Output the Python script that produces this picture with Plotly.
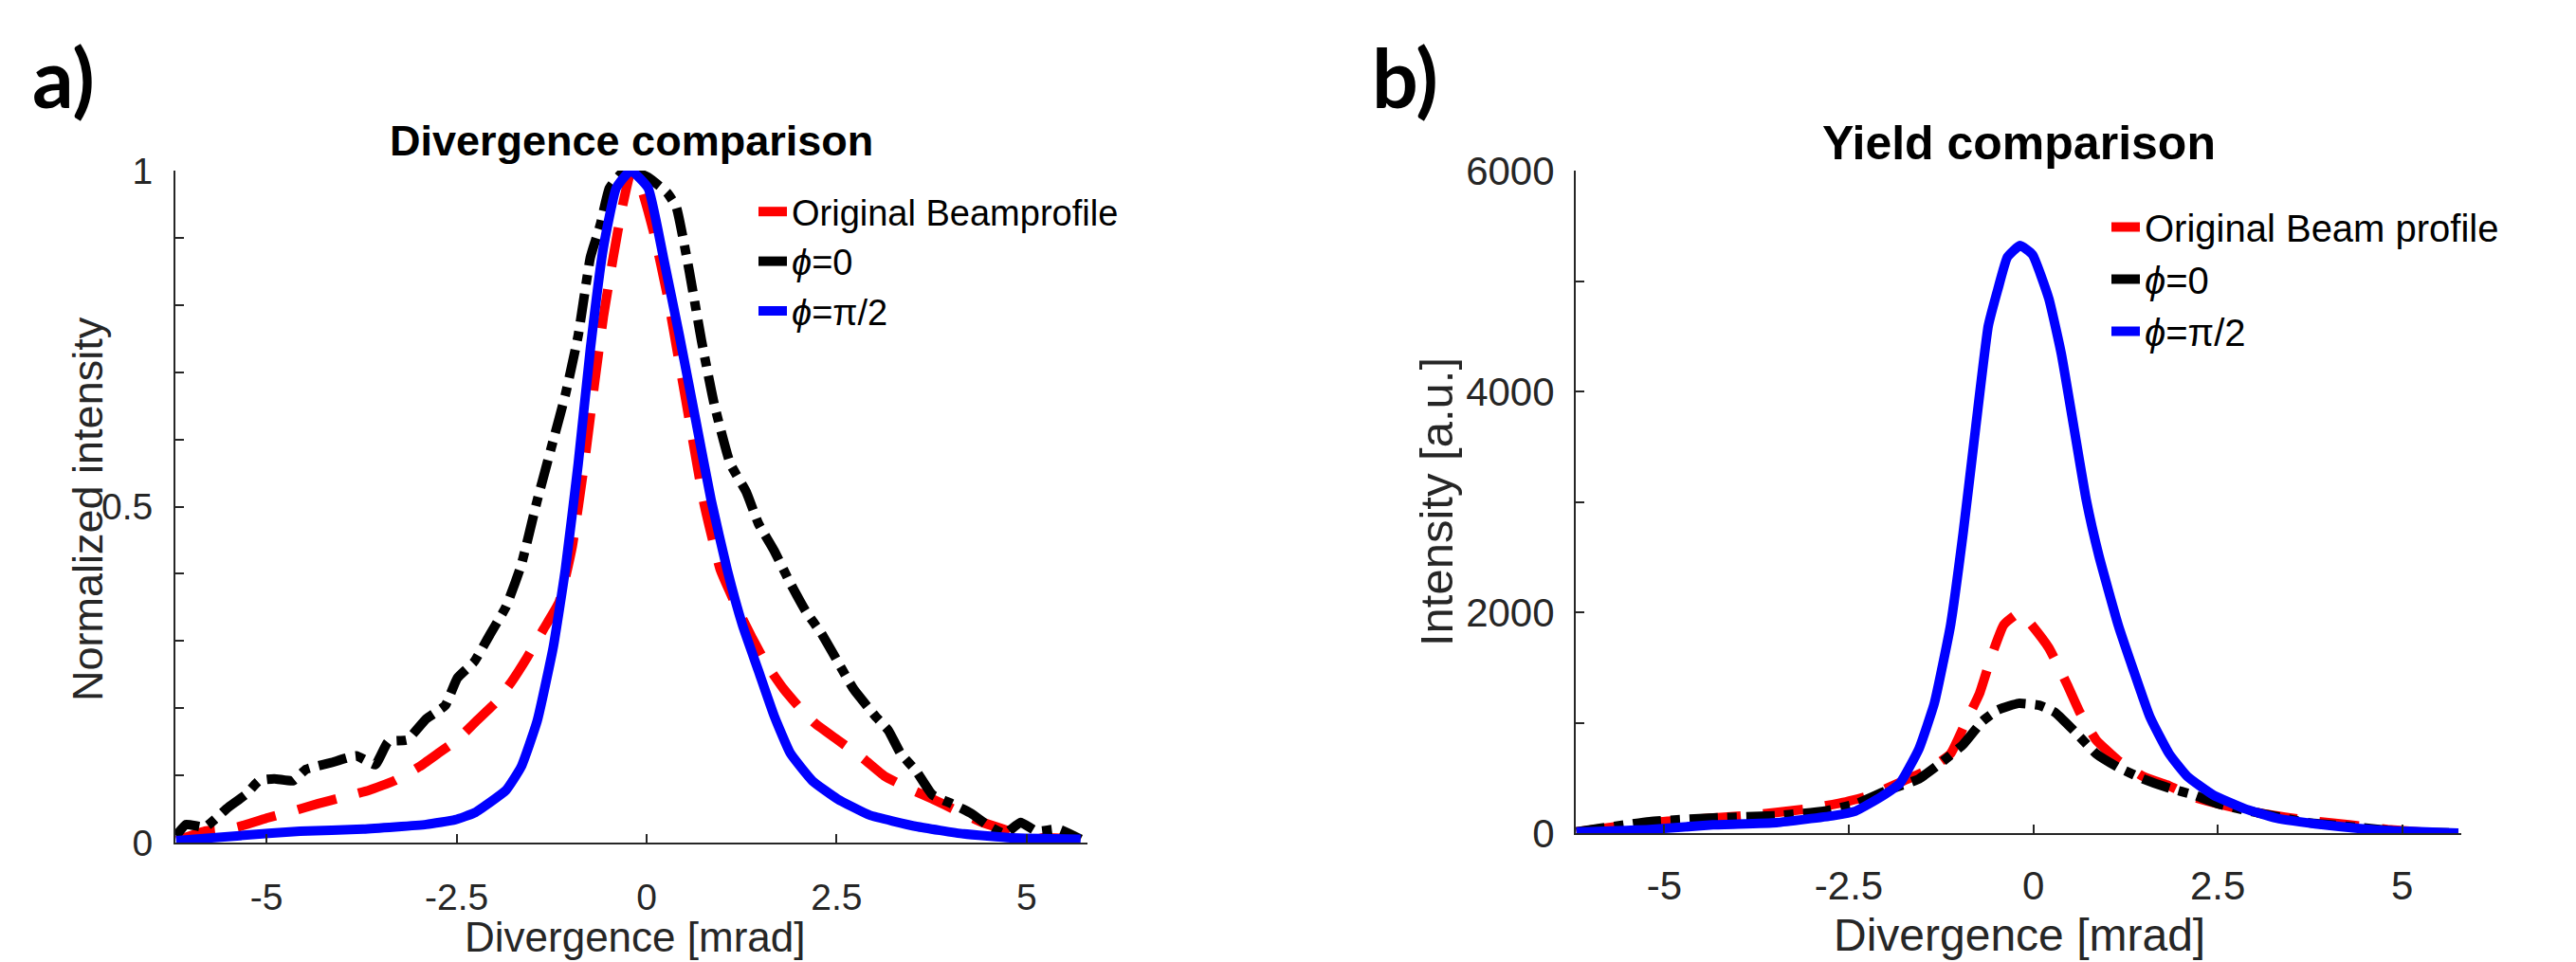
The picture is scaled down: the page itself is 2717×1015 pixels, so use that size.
import plotly.graph_objects as go

# ---------------- Panel a: Divergence comparison (normalized) ----------------
a_red_x = [-6.18, -5.81, -5.39, -4.98, -4.65, -4.32, -3.98, -3.65, -3.32, -2.99, -2.74, -2.49, -2.24,
           -1.99, -1.78, -1.57, -1.36, -1.15, -0.98, -0.82, -0.69, -0.57, -0.44, -0.32, -0.2, -0.07,
           0.10, 0.27, 0.43, 0.60, 0.76, 0.97, 1.18, 1.39, 1.59, 1.80, 2.01, 2.22, 2.51, 2.84, 3.13,
           3.42, 3.76, 4.09, 4.42, 4.76, 4.97, 5.21, 5.71, 5.8]
a_red_y = [0.003, 0.017, 0.023, 0.037, 0.047, 0.058, 0.068, 0.078, 0.092, 0.113, 0.133, 0.153, 0.181,
           0.208, 0.239, 0.276, 0.317, 0.358, 0.44, 0.564, 0.68, 0.782, 0.871, 0.946, 1.0, 0.974,
           0.905, 0.816, 0.714, 0.604, 0.502, 0.406, 0.352, 0.304, 0.263, 0.229, 0.201, 0.177, 0.153,
           0.126, 0.099, 0.082, 0.065, 0.047, 0.030, 0.017, 0.0, 0.007, 0.005, 0.003]

a_blk_x = [-6.19, -6.06, -5.81, -5.52, -5.27, -5.10, -4.90, -4.65, -4.48, -4.15, -3.82, -3.57, -3.40,
           -3.15, -2.90, -2.65, -2.49, -2.27, -2.06, -1.85, -1.65, -1.44, -1.23, -1.07, -0.90, -0.74,
           -0.61, -0.49, -0.32, -0.2, 0.02, 0.27, 0.39, 0.56, 0.72, 0.89, 1.10, 1.31, 1.47, 1.68, 1.89,
           2.09, 2.30, 2.51, 2.72, 3.01, 3.18, 3.34, 3.55, 3.76, 4.01, 4.26, 4.51, 4.71, 4.92, 5.13,
           5.42, 5.71]
a_blk_y = [0.01, 0.027, 0.023, 0.051, 0.072, 0.092, 0.095, 0.092, 0.109, 0.119, 0.129, 0.116, 0.150,
           0.153, 0.184, 0.204, 0.245, 0.269, 0.31, 0.351, 0.413, 0.509, 0.598, 0.666, 0.755, 0.871,
           0.919, 0.974, 0.997, 1.0, 0.99, 0.967, 0.946, 0.851, 0.748, 0.652, 0.564, 0.522, 0.475,
           0.434, 0.386, 0.345, 0.311, 0.27, 0.229, 0.188, 0.167, 0.133, 0.106, 0.071, 0.058, 0.044,
           0.024, 0.013, 0.03, 0.017, 0.02, 0.005]

a_blu_x = [-6.19, -5.39, -4.56, -3.73, -2.90, -2.52, -2.27, -1.85, -1.65, -1.44, -1.23, -1.07, -0.90,
           -0.74, -0.57, -0.40, -0.21, 0.02, 0.22, 0.43, 0.64, 0.85, 1.06, 1.26, 1.47, 1.68, 1.89,
           2.18, 2.51, 2.93, 3.55, 4.17, 4.80, 5.71]
a_blu_y = [0.003, 0.01, 0.017, 0.02, 0.027, 0.034, 0.044, 0.078, 0.113, 0.181, 0.29, 0.406, 0.564,
           0.735, 0.885, 0.974, 1.0, 0.974, 0.871, 0.755, 0.632, 0.509, 0.406, 0.324, 0.256, 0.188,
           0.133, 0.092, 0.065, 0.041, 0.024, 0.013, 0.007, 0.005]

# ---------------- Panel b: Yield comparison (absolute) ----------------
b_red_x = [-6.19, -5.20, -3.91, -3.05, -2.54, -2.19, -1.77, -1.42, -1.12, -0.91, -0.73, -0.57, -0.40,
           -0.2, -0.05, 0.21, 0.46, 0.63, 0.85, 1.15, 1.49, 1.84, 2.18, 2.52, 3.08, 3.72, 4.28, 4.80,
           5.44, 5.76]
b_red_y = [12, 95, 158, 220, 283, 345, 470, 574, 720, 1012, 1262, 1595, 1886, 1990, 1907, 1678, 1345,
           1095, 845, 658, 512, 429, 325, 262, 179, 116, 75, 33, 0, 0]

b_blk_x = [-6.19, -5.20, -4.34, -3.48, -2.84, -2.41, -1.98, -1.55, -1.25, -0.95, -0.69, -0.48, -0.2,
           0.08, 0.29, 0.55, 0.85, 1.15, 1.49, 1.84, 2.18, 2.52, 3.08, 3.72, 4.37, 5.01, 5.76]
b_blk_y = [12, 104, 137, 158, 199, 262, 387, 491, 637, 803, 1012, 1116, 1175, 1157, 1095, 928, 720,
           595, 491, 408, 345, 262, 179, 95, 54, 12, 0]

b_blu_x = [-6.19, -5.20, -4.34, -3.48, -2.71, -2.41, -2.07, -1.81, -1.55, -1.34, -1.12, -0.95, -0.78,
           -0.61, -0.48, -0.35, -0.18, -0.01, 0.21, 0.38, 0.55, 0.72, 0.89, 1.15, 1.36, 1.58, 1.84,
           2.09, 2.44, 2.87, 3.29, 3.94, 4.58, 5.23, 5.76]
b_blu_y = [10, 33, 75, 95, 158, 199, 325, 449, 762, 1178, 1886, 2719, 3676, 4592, 4925, 5217, 5321,
           5238, 4842, 4342, 3676, 3010, 2510, 1886, 1470, 1053, 720, 512, 345, 220, 137, 75, 33, 12, 0]

# ---------------- labels / ticks ----------------
x_tickvals = [-5, -2.5, 0, 2.5, 5]
x_ticktext = ["-5", "-2.5", "0", "2.5", "5"]
a_ytickvals = [i / 10 for i in range(11)]
a_yticktext = ["0", "", "", "", "", "0.5", "", "", "", "", "1"]
b_ytickvals = [0, 1000, 2000, 3000, 4000, 5000, 6000]
b_yticktext = ["0", "", "2000", "", "4000", "", "6000"]

a_names = ["Original Beamprofile", "<i>ϕ</i>=0", "<i>ϕ</i>=π/2"]
b_names = ["Original Beam profile", "<i>ϕ</i>=0", "<i>ϕ</i>=π/2"]

RED, BLACK, BLUE = "#FF0000", "#000000", "#0000FF"
LW = 10
FONT = "Liberation Sans, Arial, sans-serif"
AX = "#262626"

fig = go.Figure()

def add(x, y, name, color, dash, xa, ya, legend):
    fig.add_trace(go.Scatter(
        x=x, y=y, name=name, mode="lines", xaxis=xa, yaxis=ya, legend=legend,
        line=dict(color=color, width=LW, dash=dash, shape="spline", smoothing=0.4),
    ))

RED_DASH = "42px,24px"
BLK_DASH = "30px,10px,10px,10px"

add(a_red_x, a_red_y, a_names[0], RED, RED_DASH, "x", "y", "legend")
add(a_blk_x, a_blk_y, a_names[1], BLACK, BLK_DASH, "x", "y", "legend")
add(a_blu_x, a_blu_y, a_names[2], BLUE, "solid", "x", "y", "legend")

add(b_red_x, b_red_y, b_names[0], RED, RED_DASH, "x2", "y2", "legend2")
add(b_blk_x, b_blk_y, b_names[1], BLACK, BLK_DASH, "x2", "y2", "legend2")
add(b_blu_x, b_blu_y, b_names[2], BLUE, "solid", "x2", "y2", "legend2")

W, H = 2717, 1015

def px(x):
    return x / W

def py(y):
    return (H - y) / H

axis_common = dict(
    showline=True, linecolor=AX, linewidth=2, ticks="inside", ticklen=9, tickwidth=2,
    tickcolor=AX, showgrid=False, zeroline=False, mirror=False, automargin=False,
)

fig.update_layout(
    width=W, height=H, margin=dict(l=0, r=0, t=0, b=0, pad=0, autoexpand=False),
    paper_bgcolor="white", plot_bgcolor="white",
    font=dict(family=FONT, color=AX),
    xaxis=dict(domain=[px(185), px(1147)], range=[-6.2, 5.8], anchor="y",
               tickvals=x_tickvals, ticktext=x_ticktext, tickfont=dict(size=39, color=AX),
               ticklabelstandoff=22, **axis_common),
    yaxis=dict(domain=[py(889), py(180)], range=[0, 1], anchor="x",
               tickvals=a_ytickvals, ticktext=a_yticktext, tickfont=dict(size=39, color=AX),
               ticklabelstandoff=14, **axis_common),
    xaxis2=dict(domain=[px(1662), px(2596)], range=[-6.2, 5.8], anchor="y2",
                tickvals=x_tickvals, ticktext=x_ticktext, tickfont=dict(size=42, color=AX),
                ticklabelstandoff=18, **axis_common),
    yaxis2=dict(domain=[py(879), py(180)], range=[0, 6000], anchor="x2",
                tickvals=b_ytickvals, ticktext=b_yticktext, tickfont=dict(size=42, color=AX),
                ticklabelstandoff=12, **axis_common),
    legend=dict(x=px(795), y=py(192), xanchor="left", yanchor="top",
                font=dict(size=38, color="#000000", family=FONT), bgcolor="rgba(0,0,0,0)",
                tracegroupgap=0),
    legend2=dict(x=px(2222), y=py(207), xanchor="left", yanchor="top",
                 font=dict(size=40, color="#000000", family=FONT), bgcolor="rgba(0,0,0,0)",
                 tracegroupgap=0),
    showlegend=True,
)

annotations = [
    # panel letters
    dict(text="<b>a)</b>", x=px(32), y=py(80), xanchor="left", yanchor="middle",
         font=dict(size=86, family="Lato, Open Sans, sans-serif", color="#000000")),
    dict(text="<b>b)</b>", x=px(1445), y=py(80), xanchor="left", yanchor="middle",
         font=dict(size=86, family="Lato, Open Sans, sans-serif", color="#000000")),
    # titles
    dict(text="<b>Divergence comparison</b>", x=px(666), y=py(148), xanchor="center", yanchor="middle",
         font=dict(size=45, family=FONT, color="#000000")),
    dict(text="<b>Yield comparison</b>", x=px(2129), y=py(151), xanchor="center", yanchor="middle",
         font=dict(size=50, family=FONT, color="#000000")),
    # x axis titles
    dict(text="Divergence [mrad]", x=px(669), y=0, xanchor="center", yanchor="bottom",
         font=dict(size=44, family=FONT, color=AX)),
    dict(text="Divergence [mrad]", x=px(2130), y=0, xanchor="center", yanchor="bottom",
         font=dict(size=48, family=FONT, color=AX)),
    # y axis titles
    dict(text="Normalized intensity", x=px(92), y=py(537), xanchor="center", yanchor="middle",
         textangle=-90, font=dict(size=45, family=FONT, color=AX)),
    dict(text="Intensity [a.u.]", x=px(1515), y=py(530), xanchor="center", yanchor="middle",
         textangle=-90, font=dict(size=49, family=FONT, color=AX)),
]
for a in annotations:
    a.update(xref="paper", yref="paper", showarrow=False)
fig.update_layout(annotations=annotations)

fig.write_html(
    "out.html",
    config={"displayModeBar": False},
    post_script="document.body.style.margin='0px';document.body.style.padding='0px';",
)
